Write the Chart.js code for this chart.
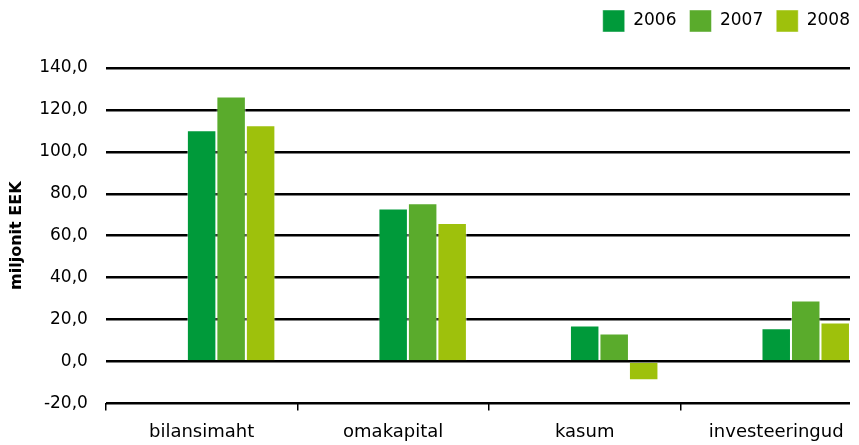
<!DOCTYPE html>
<html>
<head>
<meta charset="utf-8">
<script src="https://cdn.jsdelivr.net/npm/chart.js@4"></script>
<style>
  html, body { margin: 0; padding: 0; background: #fff; }
  #wrap { position: relative; width: 859px; height: 445px; }
</style>
</head>
<body>
<div id="wrap"><canvas id="chart"></canvas></div>
<script>
// categories and series
const categories = ['bilansimaht', 'omakapital', 'kasum', 'investeeringud'];
const years = ['2006', '2007', '2008'];
const values2006 = [110.3, 73.0, 17.2, 15.8];
const values2007 = [126.4, 75.5, 13.4, 29.1];
const values2008 = [112.7, 66.0, -9.0, 18.6];
const yTicks = [-20, 0, 20, 40, 60, 80, 100, 120, 140];

const colors = ['#009a3a', '#5aab2c', '#9ec10c'];
const series = [values2006, values2007, values2008];

// the original has two empty slots in front of each group, so keep them
const blanks = [0, 1].map(() => ({ label: '', data: [], backgroundColor: 'transparent' }));

const datasets = blanks.concat(series.map((data, i) => ({
  label: years[i],
  data,
  backgroundColor: colors[i],
  borderColor: 'rgba(255,255,255,0.45)',
  borderWidth: 1
})));

const legendPad = 13;

// legend sits higher and further right than chart.js puts it,
// and the category axis runs a little past the end of the gridlines
const layoutTweak = {
  id: 'layoutTweak',
  beforeInit(chart) {
    const fit = chart.legend.fit;
    chart.legend.fit = function () {
      fit.bind(chart.legend)();
      this.height += 26;
    };
  },
  afterLayout(chart) {
    chart.legend.right += legendPad;
    const x = chart.scales.x;
    x.right += 22;
    x.width += 22;
    x.configure();
  }
};

const font = { family: 'DejaVu Sans', size: 18 };

new Chart(document.getElementById('chart').getContext('2d'), {
  type: 'bar',
  data: { labels: categories, datasets },
  plugins: [layoutTweak],
  options: {
    responsive: true,
    maintainAspectRatio: false,
    animation: false,
    categoryPercentage: 0.77,
    barPercentage: 1,
    layout: { padding: { top: -3, right: 9, bottom: -9, left: 7 } },
    plugins: {
      tooltip: { enabled: false },
      legend: {
        position: 'top',
        align: 'end',
        labels: {
          boxWidth: 22,
          boxHeight: 22,
          padding: legendPad,
          color: '#000',
          font: { family: 'DejaVu Sans', size: 17 },
          filter: item => item.text !== ''
        }
      }
    },
    scales: {
      x: {
        border: { display: false },
        grid: {
          offset: true,
          drawOnChartArea: false,
          tickLength: 7,
          lineWidth: 1.5,
          color: ctx => ctx.type === 'tick' ? '#000' : 'transparent'
        },
        ticks: { color: '#000', font, padding: 11 }
      },
      y: {
        min: -20,
        max: 140,
        afterBuildTicks: axis => { axis.ticks = yTicks.map(v => ({ value: v })); },
        border: { display: false },
        grid: { color: '#000', lineWidth: 2.5, drawTicks: false },
        ticks: {
          color: '#000',
          font: { family: 'DejaVu Sans', size: 17 },
          padding: 18,
          callback: v => v.toFixed(1).replace('.', ',')
        },
        title: {
          display: true,
          text: 'miljonit EEK',
          color: '#000',
          font: { family: 'DejaVu Sans', size: 16, weight: 'bold' },
          padding: { top: 0, bottom: -5 }
        }
      }
    }
  }
});
</script>
</body>
</html>
